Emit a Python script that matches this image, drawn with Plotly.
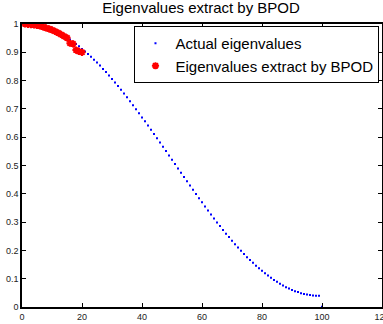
import plotly.graph_objects as go

actual_x = list(range(1, 101))
actual_y = [
    1.000, 1.000, 0.999, 0.998, 0.996, 0.994, 0.991, 0.987, 0.984, 0.980,
    0.975, 0.970, 0.964, 0.958, 0.952, 0.945, 0.937, 0.929, 0.921, 0.912,
    0.903, 0.894, 0.884, 0.874, 0.864, 0.853, 0.841, 0.830, 0.818, 0.806,
    0.793, 0.781, 0.768, 0.754, 0.741, 0.727, 0.713, 0.699, 0.685, 0.670,
    0.656, 0.641, 0.626, 0.611, 0.596, 0.581, 0.566, 0.551, 0.535, 0.520,
    0.505, 0.489, 0.474, 0.459, 0.444, 0.429, 0.414, 0.399, 0.384, 0.370,
    0.355, 0.341, 0.327, 0.313, 0.299, 0.286, 0.272, 0.259, 0.247, 0.234,
    0.222, 0.210, 0.199, 0.187, 0.176, 0.166, 0.156, 0.146, 0.137, 0.128,
    0.119, 0.111, 0.103, 0.095, 0.089, 0.082, 0.076, 0.070, 0.065, 0.060,
    0.056, 0.053, 0.049, 0.046, 0.044, 0.042, 0.041, 0.040, 0.040, 0.001,
]

bpod_x = list(range(1, 21))
bpod_y = [
    1.000, 0.999, 0.998, 0.997, 0.995, 0.993, 0.990, 0.986, 0.983, 0.979,
    0.974, 0.969, 0.963, 0.957, 0.951, 0.932, 0.930, 0.908, 0.903, 0.900,
]

x_ticks = [0, 20, 40, 60, 80, 100, 120]
y_ticks = [0, 0.1, 0.2, 0.3, 0.4, 0.5, 0.6, 0.7, 0.8, 0.9, 1]
y_tick_labels = ["0", "0.1", "0.2", "0.3", "0.4", "0.5", "0.6", "0.7", "0.8", "0.9", "1"]

fig = go.Figure()
fig.add_trace(go.Scatter(
    x=actual_x, y=actual_y, mode="markers", name="Actual eigenvalues",
    marker=dict(symbol="square", size=2, color="#0000ff", line=dict(width=0)),
))
fig.add_trace(go.Scatter(
    x=bpod_x, y=bpod_y, mode="markers", name="Eigenvalues extract by BPOD",
    marker=dict(symbol="asterisk-open", size=6, color="#ff0000",
                line=dict(color="#ff0000", width=2)),
))

axis_common = dict(
    showgrid=False, zeroline=False, showline=True, linecolor="black", linewidth=1.5,
    mirror="ticks", ticks="inside", ticklen=4, tickwidth=1, tickcolor="black",
    ticklabeloverflow="allow", automargin=False,
    tickfont=dict(family="Liberation Sans, Arial, sans-serif", size=9, color="#222"),
)

fig.update_layout(
    width=383, height=324,
    margin=dict(l=22, r=1, t=24, b=17),
    paper_bgcolor="white", plot_bgcolor="white",
    title=dict(text="Eigenvalues extract by BPOD", x=0.525, xanchor="center",
               y=0.975, yanchor="middle",
               font=dict(family="Liberation Sans, Arial, sans-serif", size=15, color="black")),
    xaxis=dict(range=[0, 120], tickvals=x_ticks, ticktext=[str(v) for v in x_ticks], **axis_common),
    yaxis=dict(range=[0, 1], tickvals=y_ticks, ticktext=y_tick_labels, **axis_common),
    showlegend=True,
    legend=dict(x=0.993, y=0.993, xanchor="right", yanchor="top",
                bgcolor="white", bordercolor="black", borderwidth=1,
                font=dict(family="Liberation Sans, Arial, sans-serif", size=15, color="black"),
                itemwidth=30, tracegroupgap=0),
)

fig.write_html("out.html")
